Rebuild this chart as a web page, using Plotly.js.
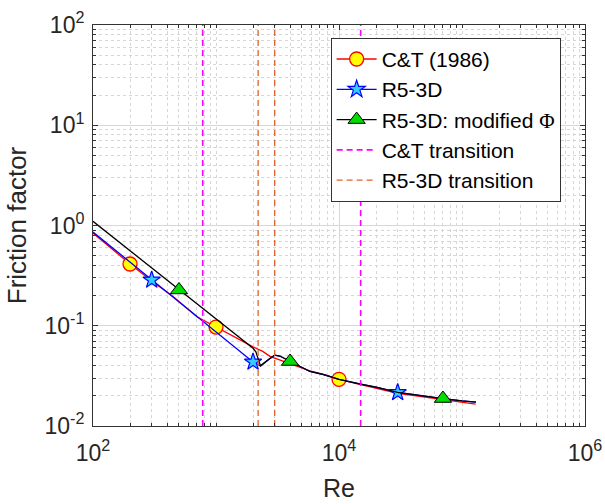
<!DOCTYPE html>
<html>
<head>
<meta charset="utf-8">
<script src="https://cdn.plot.ly/plotly-3.0.1.min.js"></script>
<style>html,body{margin:0;padding:0;background:#fff;}#plot{width:605px;height:504px;}</style>
</head>
<body>
<div id="plot"></div>
<script>
// C&T (1986) correlation
const ctRe = [100, 200, 300, 450, 700, 1000, 1300, 1500, 2000, 2400, 2750, 3000, 4000, 5800, 7500, 10000, 15000, 20000, 30000, 50000, 70000, 100000, 129000];
const ctF  = [0.84, 0.413, 0.28, 0.195, 0.123, 0.097, 0.081, 0.074, 0.0615, 0.0555, 0.0495, 0.0475, 0.042, 0.0355, 0.0328, 0.0292, 0.0258, 0.0238, 0.0212, 0.0194, 0.0183, 0.0172, 0.0165];
const ctMarkRe = [200, 1000, 10000];

// R5-3D
const r5Re = [100, 300, 2000, 2300, 2750, 3000, 3300, 4000, 5800, 7500, 10000, 15000, 20000, 30000, 50000, 70000, 100000, 130000];
const r5F  = [0.86, 0.286, 0.0435, 0.0398, 0.0473, 0.051, 0.0499, 0.044, 0.035, 0.0325, 0.0292, 0.0262, 0.0244, 0.0216, 0.0197, 0.0188, 0.0178, 0.0173];
const r5MarkRe = [300, 2000, 30000];

// R5-3D: modified Phi
const modRe = [100, 500, 1000, 2000, 2110, 2200, 2300, 2750, 3000, 3300, 4000, 5800, 7500, 10000, 15000, 20000, 30000, 50000, 70000, 100000, 130000];
const modF  = [1.10, 0.2275, 0.115, 0.0596, 0.055, 0.0465, 0.0398, 0.0473, 0.051, 0.0499, 0.044, 0.035, 0.0325, 0.0292, 0.0262, 0.0244, 0.0216, 0.0197, 0.0188, 0.0178, 0.0173];
const modMarkRe = [500, 4000, 70000];

// transitions
const ctTransRe = [780, 15000];
const r5TransRe = [2200, 3000];
const yRange = [0.01, 100];

// tick labels
const xTickVals = [1e2, 1e4, 1e6];
const xTickText = ['10<sup>2</sup>', '10<sup>4</sup>', '10<sup>6</sup>'];
const yTickVals = [1e-2, 1e-1, 1e0, 1e1, 1e2];
const yTickText = ['10<sup>-2</sup>', '10<sup>-1</sup>', '10<sup>0</sup>', '10<sup>1</sup>', '10<sup>2</sup>'];

function idx(xs, marks) { return marks.map(m => xs.indexOf(m)).filter(i => i >= 0); }

const traces = [];
traces.push({
  x: ctRe, y: ctF, mode: 'lines+markers', name: 'C&amp;T (1986)',
  line: {color: '#ff0000', width: 1.3},
  marker: {symbol: 'circle', size: 14, color: '#ffff00', line: {color: '#ff0000', width: 1.3}},
  selectedpoints: idx(ctRe, ctMarkRe),
  selected: {marker: {opacity: 1}}, unselected: {marker: {opacity: 0}}
});
traces.push({
  x: r5Re, y: r5F, mode: 'lines+markers', name: 'R5-3D',
  line: {color: '#0000ff', width: 1.3},
  marker: {symbol: 'star', size: 13, color: '#33ccff', line: {color: '#0000ff', width: 1.2}},
  selectedpoints: idx(r5Re, r5MarkRe),
  selected: {marker: {opacity: 1}}, unselected: {marker: {opacity: 0}}
});
traces.push({
  x: modRe, y: modF, mode: 'lines+markers', name: 'R5-3D: modified <span style="font-family:Liberation Serif">Φ</span>',
  line: {color: '#000000', width: 1.3},
  marker: {symbol: 'triangle-up', size: 15, color: '#00dd00', line: {color: '#000000', width: 1}},
  selectedpoints: idx(modRe, modMarkRe),
  selected: {marker: {opacity: 1}}, unselected: {marker: {opacity: 0}}
});
ctTransRe.forEach((r, i) => traces.push({
  x: [r, r], y: yRange, mode: 'lines', name: 'C&amp;T transition', showlegend: i === 0,
  legendgroup: 'ctt', line: {color: '#ff00ff', width: 1.6, dash: '6px,4px'}
}));
r5TransRe.forEach((r, i) => traces.push({
  x: [r, r], y: yRange, mode: 'lines', name: 'R5-3D transition', showlegend: i === 0,
  legendgroup: 'r5t', line: {color: '#e0622a', width: 1.3, dash: '6px,4px'}
}));

const axisCommon = {
  type: 'log', showline: true, mirror: 'ticks', linecolor: '#333333', linewidth: 1,
  ticks: 'inside', ticklen: 5, tickcolor: '#333333',
  showgrid: true, gridcolor: '#d8d8d8', gridwidth: 1, zeroline: false,
  tickfont: {family: 'Liberation Sans, Arial, sans-serif', size: 23, color: '#262626'},
  minor: {dtick: 'D1', showgrid: true, gridcolor: '#d6d6d6', griddash: 'dot', gridwidth: 1,
          ticks: 'inside', ticklen: 3, tickcolor: '#333333'}
};

const layout = {
  width: 605, height: 504,
  margin: {l: 93, r: 20, t: 25, b: 78},
  paper_bgcolor: '#ffffff', plot_bgcolor: '#ffffff',
  font: {family: 'Liberation Sans, Arial, sans-serif', color: '#262626'},
  showlegend: true,
  legend: {x: 0.483, y: 0.968, xanchor: 'left', yanchor: 'top',
           bgcolor: '#ffffff', bordercolor: '#333333', borderwidth: 1,
           font: {size: 21, color: '#000000'}, itemwidth: 40,
           tracegroupgap: 0},
  xaxis: Object.assign({}, axisCommon, {
    range: [2, 6], tickmode: 'array', tickvals: xTickVals, ticktext: xTickText,
    ticklabelstandoff: 6,
    title: {text: 'Re', font: {size: 25, color: '#262626'}, standoff: 14}
  }),
  yaxis: Object.assign({}, axisCommon, {
    range: [-2, 2], tickmode: 'array', tickvals: yTickVals, ticktext: yTickText,
    ticklabelstandoff: 3,
    title: {text: 'Friction factor', font: {size: 26, color: '#262626'}, standoff: 10}
  })
};

Plotly.newPlot('plot', traces, layout, {staticPlot: true, displayModeBar: false});
</script>
</body>
</html>
